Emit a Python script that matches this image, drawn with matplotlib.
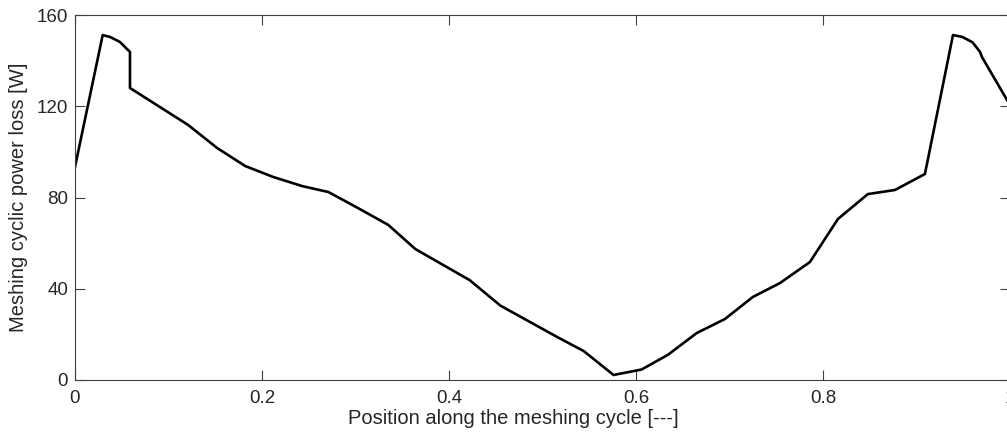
import matplotlib
matplotlib.use("Agg")
import matplotlib.pyplot as plt

# position along meshing cycle and power loss
pos = [0.0, 0.0296, 0.0374, 0.048, 0.0588, 0.0588, 0.121, 0.152, 0.182, 0.212,
       0.243, 0.271, 0.303, 0.335, 0.364, 0.393, 0.422, 0.455, 0.485, 0.515,
       0.544, 0.576, 0.606, 0.634, 0.665, 0.695, 0.725, 0.754, 0.786, 0.816,
       0.848, 0.877, 0.909, 0.911, 0.939, 0.949, 0.960, 0.968, 0.970, 1.0]
loss = [93.4, 151.2, 150.4, 148.2, 143.8, 128.0, 111.8, 101.7, 93.8, 89.0,
        85.0, 82.4, 75.3, 68.0, 57.4, 50.6, 43.8, 32.6, 25.8, 19.0,
        12.7, 2.2, 4.6, 11.0, 20.6, 26.7, 36.4, 42.5, 51.7, 70.6,
        81.5, 83.3, 90.3, 94.3, 151.2, 150.4, 148.0, 143.8, 141.6, 120.5]

xticks = [0, 0.2, 0.4, 0.6, 0.8, 1]
xticklabels = ["0", "0.2", "0.4", "0.6", "0.8", "1"]
yticks = [0, 40, 80, 120, 160]

plt.rcParams["font.family"] = ["Liberation Sans", "DejaVu Sans"]

fig = plt.figure(figsize=(10.07, 4.43), dpi=100)
ax = fig.add_axes([75 / 1007, 1 - 380 / 443, 935 / 1007, 365 / 443])

ax.plot(pos, loss, color="black", linewidth=1.9, solid_joinstyle="round")

ax.set_xlim(0, 1)
ax.set_ylim(0, 160)
ax.set_xticks(xticks)
ax.set_xticklabels(xticklabels)
ax.set_yticks(yticks)

grey = "#404040"
for s in ax.spines.values():
    s.set_color(grey)
    s.set_linewidth(0.8)
ax.tick_params(direction="in", length=7, width=0.8, color=grey,
               labelcolor="#262626", top=True, right=True, labelsize=13.5)
ax.tick_params(axis="x", pad=7)
ax.tick_params(axis="y", pad=5)

ax.set_xlabel("Position along the meshing cycle [---]", color="#262626", fontsize=14.5)
ax.set_ylabel("Meshing cyclic power loss [W]", color="#262626", fontsize=14.5)
ax.xaxis.set_label_coords((513 - 75) / 935, -0.08)
ax.yaxis.set_label_coords(-0.05, 0.5)

fig.savefig("out.png", dpi=100)
